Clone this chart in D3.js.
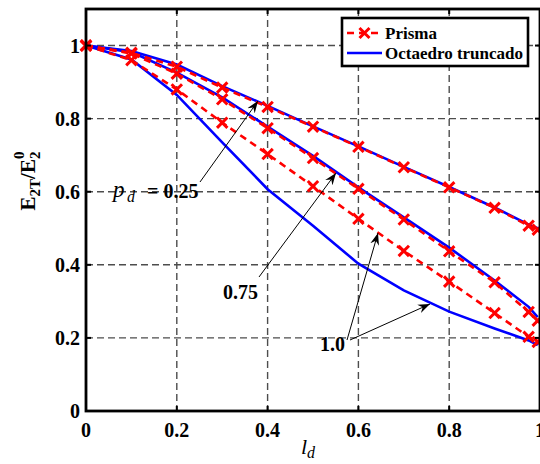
<!DOCTYPE html>
<html>
<head>
<meta charset="utf-8">
<script src="https://cdn.jsdelivr.net/npm/d3@7/dist/d3.min.js"></script>
<style>
  body { margin: 0; background: #fff; }
  svg { display: block; font-family: "Liberation Serif", "Times New Roman", "DejaVu Serif", serif; }
</style>
</head>
<body>
<svg id="chart" width="540" height="464"></svg>
<script>
// l_d sample points (shared by every curve)
const ldValues = [0, 0.1, 0.2, 0.3, 0.4, 0.5, 0.6, 0.7, 0.8, 0.9, 0.975, 0.995];

// Prisma (red dashed, x markers)
const prisma025 = [1.0, 0.980, 0.942, 0.885, 0.832, 0.778, 0.723, 0.667, 0.612, 0.556, 0.507, 0.496];
const prisma075 = [1.0, 0.978, 0.923, 0.853, 0.774, 0.692, 0.608, 0.524, 0.437, 0.352, 0.271, 0.247];
const prisma100 = [1.0, 0.960, 0.880, 0.789, 0.703, 0.615, 0.526, 0.438, 0.354, 0.268, 0.203, 0.189];

// Octaedro truncado (blue solid)
const octa025 = [1.0, 0.985, 0.948, 0.889, 0.835, 0.779, 0.724, 0.668, 0.613, 0.557, 0.510, 0.500];
const octa075 = [1.0, 0.982, 0.926, 0.858, 0.778, 0.698, 0.612, 0.530, 0.447, 0.357, 0.285, 0.257];
const octa100 = [1.0, 0.962, 0.865, 0.735, 0.607, 0.507, 0.403, 0.330, 0.272, 0.226, 0.193, 0.180];

const xTicks = [0, 0.2, 0.4, 0.6, 0.8, 1];
const yTicks = [0, 0.2, 0.4, 0.6, 0.8, 1];

const svg = d3.select('#chart');
const margin = { top: 9, right: 0, bottom: 53, left: 86 };
const width = 540;
const height = 464;

const xScale = d3.scaleLinear()
  .domain([0, 1])
  .range([margin.left, width - margin.right]);

const yScale = d3.scaleLinear()
  .domain([0, 1.1])
  .range([height - margin.bottom, margin.top]);

const x0 = xScale(0), x1 = xScale(1);
const yB = yScale(0), yT = yScale(1.1);

// Grid lines
svg.append('g').selectAll('line')
  .data(xTicks.slice(1, -1))
  .join('line')
  .attr('x1', d => xScale(d)).attr('x2', d => xScale(d))
  .attr('y1', yT).attr('y2', yB)
  .attr('stroke', '#4d4d4d').attr('stroke-width', 1.4)
  .attr('stroke-dasharray', '7,4');

svg.append('g').selectAll('line')
  .data(yTicks.slice(1))
  .join('line')
  .attr('x1', x0).attr('x2', x1)
  .attr('y1', d => yScale(d)).attr('y2', d => yScale(d))
  .attr('stroke', '#4d4d4d').attr('stroke-width', 1.4)
  .attr('stroke-dasharray', '7,4');

// Curves
const line = d3.line()
  .x((d, i) => xScale(ldValues[i]))
  .y(d => yScale(d));

const prismaSeries = [prisma025, prisma075, prisma100];
const octaSeries = [octa025, octa075, octa100];

// blue first, then red on top
octaSeries.forEach(s => {
  svg.append('path')
    .attr('d', line(s))
    .attr('fill', 'none')
    .attr('stroke', '#0000ff')
    .attr('stroke-width', 2.6);
});

function drawCross(g, cx, cy, r) {
  g.append('path')
    .attr('d', `M${cx - r},${cy - r}L${cx + r},${cy + r}M${cx - r},${cy + r}L${cx + r},${cy - r}`)
    .attr('stroke', '#ff0000')
    .attr('stroke-width', 3)
    .attr('fill', 'none');
}

prismaSeries.forEach(s => {
  svg.append('path')
    .attr('d', line(s))
    .attr('fill', 'none')
    .attr('stroke', '#ff0000')
    .attr('stroke-width', 2.6)
    .attr('stroke-dasharray', '7,5');
  const g = svg.append('g');
  s.forEach((v, i) => drawCross(g, xScale(ldValues[i]), yScale(v), 5.2));
});

// Axes box + inward ticks
const axisColor = '#000';
svg.append('rect')
  .attr('x', x0).attr('y', yT)
  .attr('width', x1 - x0).attr('height', yB - yT)
  .attr('fill', 'none')
  .attr('stroke', axisColor)
  .attr('stroke-width', 2.8);

const tickLen = 5;
xTicks.forEach(t => {
  svg.append('line').attr('x1', xScale(t)).attr('x2', xScale(t))
    .attr('y1', yB).attr('y2', yB - tickLen).attr('stroke', axisColor).attr('stroke-width', 2);
  svg.append('line').attr('x1', xScale(t)).attr('x2', xScale(t))
    .attr('y1', yT).attr('y2', yT + tickLen).attr('stroke', axisColor).attr('stroke-width', 2);
});
yTicks.forEach(t => {
  svg.append('line').attr('x1', x0).attr('x2', x0 + tickLen)
    .attr('y1', yScale(t)).attr('y2', yScale(t)).attr('stroke', axisColor).attr('stroke-width', 2);
  svg.append('line').attr('x1', x1).attr('x2', x1 - tickLen)
    .attr('y1', yScale(t)).attr('y2', yScale(t)).attr('stroke', axisColor).attr('stroke-width', 2);
});

// Tick labels
svg.append('g').selectAll('text')
  .data(xTicks)
  .join('text')
  .attr('x', d => xScale(d))
  .attr('y', yB + 26)
  .attr('text-anchor', 'middle')
  .attr('font-size', '20px')
  .attr('font-weight', 'bold')
  .text(d => d3.format('')(d));

svg.append('g').selectAll('text')
  .data(yTicks)
  .join('text')
  .attr('x', x0 - 6)
  .attr('y', d => yScale(d) + 7)
  .attr('text-anchor', 'end')
  .attr('font-size', '20px')
  .attr('font-weight', 'bold')
  .text(d => d3.format('')(d));

// Axis labels
const xLabel = svg.append('text')
  .attr('x', 308)
  .attr('y', 454)
  .attr('text-anchor', 'middle')
  .attr('font-style', 'italic')
  .attr('font-size', '22px');
xLabel.append('tspan').text('l');
xLabel.append('tspan').attr('font-size', '16px').attr('dy', 4).text('d');

const yLabel = svg.append('text')
  .attr('transform', 'translate(35,181) rotate(-90)')
  .attr('text-anchor', 'middle')
  .attr('font-weight', 'bold')
  .attr('font-size', '21px');
yLabel.append('tspan').text('E');
yLabel.append('tspan').attr('font-size', '15px').attr('dy', 5).text('2T');
yLabel.append('tspan').attr('dy', -5).text('/E');
yLabel.append('tspan').attr('font-size', '15px').attr('dy', 5).text('2');
yLabel.append('tspan').attr('font-size', '15px').attr('dx', -7.5).attr('dy', -16).text('0');

// Legend
const legend = svg.append('g');
legend.append('rect')
  .attr('x', 342).attr('y', 18)
  .attr('width', 186).attr('height', 48)
  .attr('fill', '#fff')
  .attr('stroke', '#000')
  .attr('stroke-width', 2.6);

legend.append('line')
  .attr('x1', 347).attr('x2', 382).attr('y1', 33).attr('y2', 33)
  .attr('stroke', '#ff0000').attr('stroke-width', 2.6)
  .attr('stroke-dasharray', '7,5');
drawCross(legend, 364.5, 33, 5);
legend.append('line')
  .attr('x1', 347).attr('x2', 382).attr('y1', 53).attr('y2', 53)
  .attr('stroke', '#0000ff').attr('stroke-width', 2.6);

legend.append('text')
  .attr('x', 385).attr('y', 39)
  .attr('font-size', '17px').attr('font-weight', 'bold')
  .text('Prisma');
legend.append('text')
  .attr('x', 385).attr('y', 59)
  .attr('font-size', '17px').attr('font-weight', 'bold')
  .text('Octaedro truncado');

// Annotations with arrows
svg.append('defs').append('marker')
  .attr('id', 'arrow')
  .attr('viewBox', '-12 -5 13 10')
  .attr('refX', 0).attr('refY', 0)
  .attr('markerWidth', 13).attr('markerHeight', 10)
  .attr('markerUnits', 'userSpaceOnUse')
  .attr('orient', 'auto')
  .append('path')
  .attr('d', 'M0,0L-12,-4.5L-8,0L-12,4.5Z')
  .attr('fill', '#000');

const arrows = [
  [200, 182, 258, 101],
  [259, 277, 336, 173],
  [347, 340, 378, 233],
  [350, 340, 430, 304]
];
arrows.forEach(a => {
  svg.append('line')
    .attr('x1', a[0]).attr('y1', a[1]).attr('x2', a[2]).attr('y2', a[3])
    .attr('stroke', '#000').attr('stroke-width', 1)
    .attr('marker-end', 'url(#arrow)');
});

svg.append('text').attr('x', 113).attr('y', 197)
  .attr('font-style', 'italic').attr('font-size', '23px').text('p');
svg.append('text').attr('x', 127).attr('y', 202)
  .attr('font-style', 'italic').attr('font-size', '16px').text('d');
svg.append('text').attr('x', 147).attr('y', 198)
  .attr('font-weight', 'bold').attr('font-size', '20px').text('= 0.25');

svg.append('text').attr('x', 223).attr('y', 299)
  .attr('font-weight', 'bold').attr('font-size', '20px').text('0.75');
svg.append('text').attr('x', 320).attr('y', 351)
  .attr('font-weight', 'bold').attr('font-size', '20px').text('1.0');
</script>
</body>
</html>
